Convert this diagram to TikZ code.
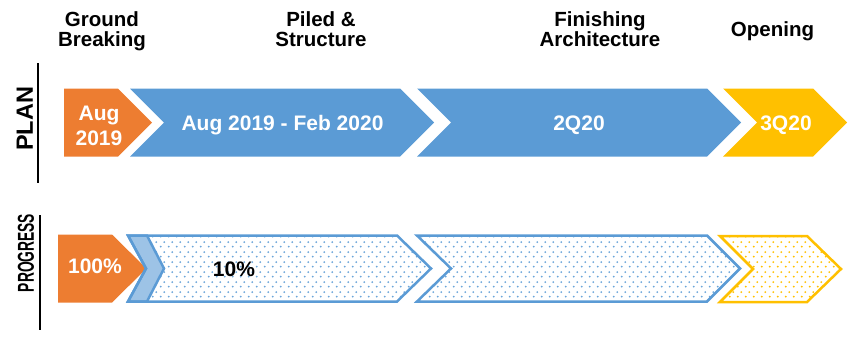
\documentclass[tikz,border=0pt]{standalone}
\usepackage{fontspec}
\setmainfont{Liberation Sans}
\usetikzlibrary{patterns}
\definecolor{orangeC}{HTML}{ED7D31}
\definecolor{blueC}{HTML}{5B9BD5}
\definecolor{lightblueC}{HTML}{9DC3E6}
\definecolor{yellowC}{HTML}{FFC000}
\pgfdeclarepatternformonly{stagdots}{\pgfpointorigin}{\pgfqpoint{7.5pt}{10pt}}{\pgfqpoint{7.5pt}{10pt}}{%
  \pgfpathcircle{\pgfqpoint{1.875pt}{2.5pt}}{1.1pt}%
  \pgfpathcircle{\pgfqpoint{5.625pt}{7.5pt}}{1.1pt}%
  \pgfusepath{fill}}
\tikzset{
  hdr/.style={font=\bfseries\fontsize{20.5}{20.5}\selectfont, align=center, anchor=base, text=black, inner sep=0pt},
  lbl/.style={font=\bfseries\fontsize{21}{25}\selectfont, align=center, anchor=base, text=white, inner sep=0pt},
  rowlbl/.style={rotate=90, inner sep=0pt, text=black},
  sep/.style={line width=2pt, black},
  prog/.style={line width=2.5pt, line join=miter},
  dotfill/.style={pattern=stagdots, pattern color=#1},
}
\begin{document}
\begin{tikzpicture}[x=1pt,y=-1pt]
\useasboundingbox (0,0) rectangle (849,338);

% headers
\node[hdr] (h1) at (102,46.7) {Ground\\Breaking};
\node[hdr] (h2) at (321,46.7) {Piled \&\\Structure};
\node[hdr] (h3) at (600,46.7) {Finishing\\Architecture};
\node[hdr] (h4) at (772.5,36.7) {Opening};

% row labels and separators
\draw[sep] (38,63) -- (38,183);
\node[rowlbl, font=\bfseries\fontsize{23.5}{23.5}\selectfont] (plan) at (24.7,119) {PLAN};
\draw[sep] (39.5,215) -- (39.5,330);
\node[rowlbl, font=\bfseries\fontsize{23}{23}\selectfont] (progress) at (26,253) {\scalebox{0.6}[1]{PROGRESS}};

% plan row
\fill[orangeC] (64,88.5) -- (118,88.5) -- (152,122.5) -- (118,156.5) -- (64,156.5) -- cycle;
\fill[blueC] (130,88.5) -- (400,88.5) -- (434,122.5) -- (400,156.5) -- (130,156.5) -- (164,122.5) -- cycle;
\fill[blueC] (417,88.5) -- (707,88.5) -- (741,122.5) -- (707,156.5) -- (417,156.5) -- (451,122.5) -- cycle;
\fill[yellowC] (723,88.5) -- (813,88.5) -- (847,122.5) -- (813,156.5) -- (723,156.5) -- (757,122.5) -- cycle;

\node[lbl] (p1) at (99,145) {Aug\\2019};
\node[lbl] (p2) at (282.5,130) {Aug 2019 - Feb 2020};
\node[lbl] (p3) at (579,130) {2Q20};
\node[lbl] (p4) at (786,130) {3Q20};

% progress row
\fill[orangeC] (58,234.5) -- (112,234.5) -- (146.5,268.5) -- (112,302.5) -- (58,302.5) -- cycle;

\path[dotfill=blueC!90] (128,235.5) -- (397,235.5) -- (431,268.5) -- (397,301.5) -- (128,301.5) -- (146,268.5) -- cycle;
\filldraw[prog, draw=blueC, fill=lightblueC] (128,235.5) -- (147,235.5) -- (164,268.5) -- (147,301.5) -- (128,301.5) -- (146,268.5) -- cycle;
\draw[prog, blueC] (128,235.5) -- (397,235.5) -- (431,268.5) -- (397,301.5) -- (128,301.5) -- (146,268.5) -- cycle;

\path[dotfill=blueC!90] (417,235.5) -- (707,235.5) -- (740,268.5) -- (707,301.5) -- (417,301.5) -- (451,268.5) -- cycle;
\draw[prog, blueC] (417,235.5) -- (707,235.5) -- (740,268.5) -- (707,301.5) -- (417,301.5) -- (451,268.5) -- cycle;

\path[dotfill=yellowC] (720,236) -- (807,236) -- (841,269) -- (807,302) -- (720,302) -- (753,269) -- cycle;
\draw[prog, yellowC] (720,236) -- (807,236) -- (841,269) -- (807,302) -- (720,302) -- (753,269) -- cycle;

\node[lbl] (g1) at (95,273.3) {100\%};
\node[lbl, text=black] (g2) at (234,276) {10\%};
\end{tikzpicture}
\end{document}
